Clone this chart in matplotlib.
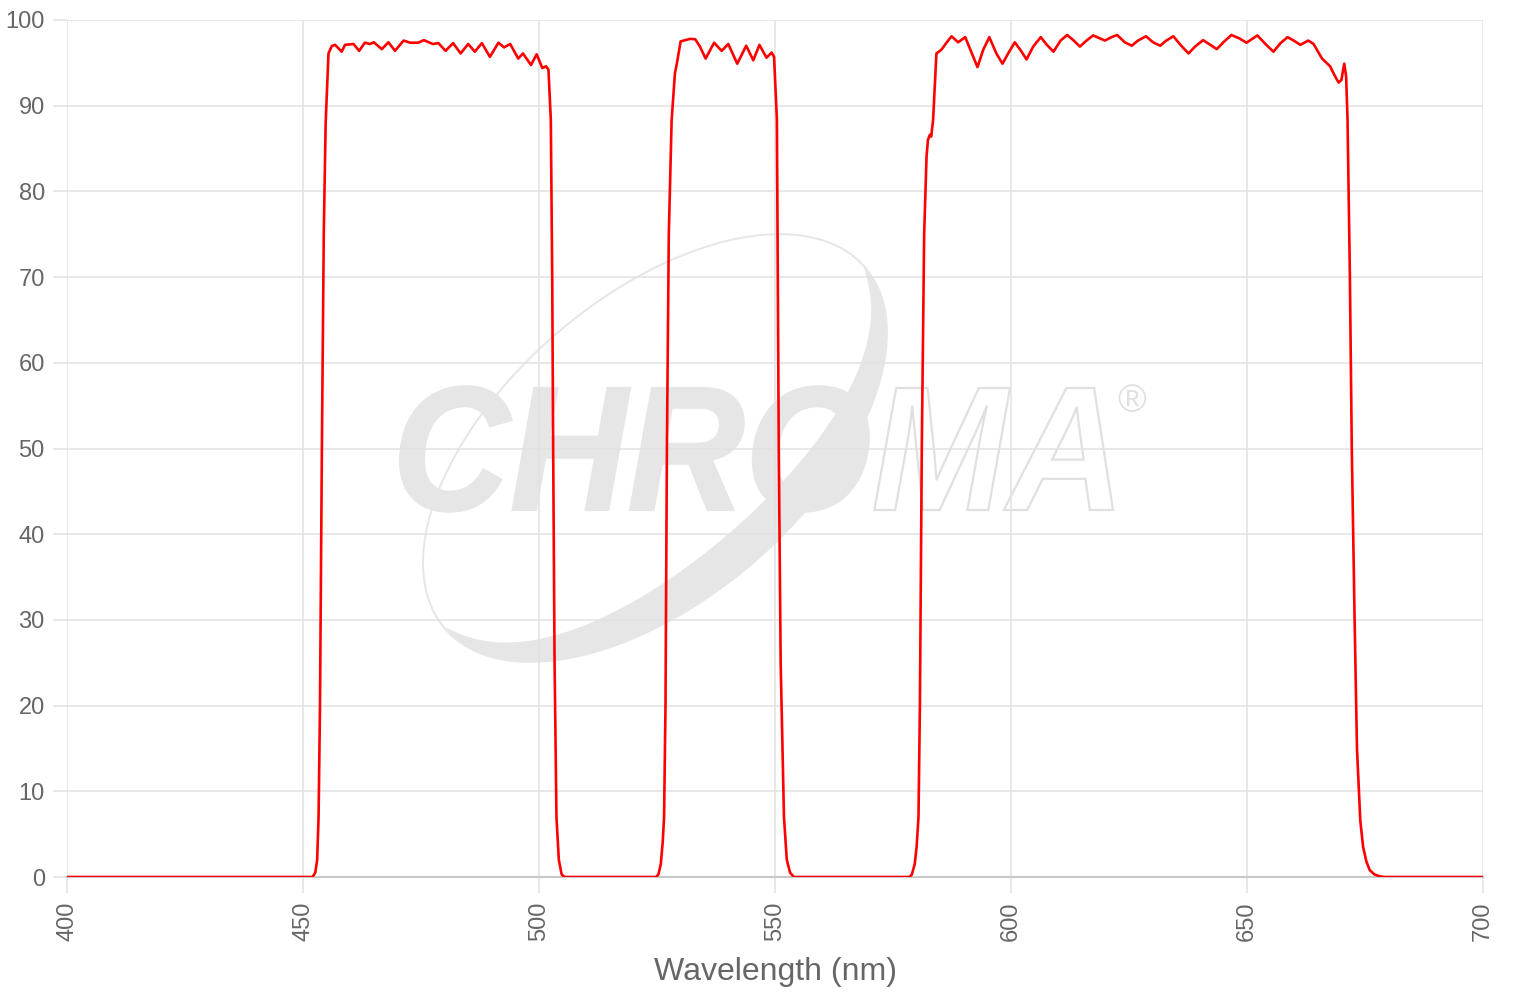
import numpy as np
import matplotlib
matplotlib.use("Agg")
import matplotlib.pyplot as plt
import matplotlib.transforms as mtransforms
from matplotlib.patches import PathPatch, Polygon
from matplotlib.textpath import TextPath, TextToPath
from matplotlib.font_manager import FontProperties

# ---------------- data ----------------
wavelength = [
    400.0, 452.0, 452.6, 453.0, 453.3, 453.6, 454.0, 454.4, 454.8, 455.4,
    456.1, 456.8, 458.2, 458.9, 460.7, 461.9, 463.1, 464.2, 465.0, 466.7,
    468.1, 469.5, 471.3, 472.7, 474.4, 475.6, 477.5, 478.7, 480.2, 481.8,
    483.4, 485.0, 486.4, 487.9, 489.6, 491.4, 492.6, 493.9, 495.6, 496.6,
    498.3, 499.5, 500.7, 501.5, 502.0, 502.5, 502.8, 503.0, 503.3, 503.7,
    504.2, 504.8, 505.4,
    524.8, 525.3, 525.8, 526.2, 526.5, 526.8, 527.1, 527.5, 528.1, 528.8,
    529.2, 530.0, 532.0, 533.1, 534.1, 535.3, 537.1, 538.7, 540.1, 542.0,
    543.9, 545.4, 546.7, 548.2, 549.3, 549.8, 550.4, 550.8, 551.2, 551.9,
    552.5, 553.2, 554.0,
    578.5, 579.0, 579.6, 580.0, 580.4, 580.7, 581.1, 581.6, 582.1, 582.4,
    582.8, 583.1, 583.5, 584.2, 585.2, 586.4, 587.4, 588.8, 590.3, 591.7,
    592.9, 594.1, 595.4, 596.9, 598.2, 599.4, 600.8, 602.0, 603.3, 604.7,
    606.3, 607.6, 609.0, 610.5, 611.9, 613.2, 614.6, 616.0, 617.4, 619.9,
    621.3, 622.5, 624.1, 625.6, 626.9, 628.6, 630.1, 631.6, 632.9, 634.4,
    635.9, 637.6, 639.0, 640.7, 642.2, 643.6, 645.0, 646.7, 648.4, 649.9,
    652.2, 653.9, 655.6, 657.1, 658.6, 659.9, 661.3, 663.0, 664.1, 665.9,
    667.6, 668.5, 669.4, 670.0, 670.6, 671.0, 671.3, 671.8, 672.2, 672.8,
    673.3, 674.0, 674.6, 675.3, 676.0, 677.0, 678.0, 679.0, 700.0,
]
transmission = [
    0.0, 0.0, 0.5, 2.0, 7.0, 20.0, 50.0, 75.0, 88.0, 96.1,
    96.96, 97.1, 96.3, 97.1, 97.2, 96.4, 97.35, 97.2, 97.4, 96.6,
    97.4, 96.4, 97.6, 97.35, 97.35, 97.65, 97.2, 97.3, 96.4, 97.3,
    96.1, 97.2, 96.3, 97.3, 95.7, 97.35, 96.8, 97.2, 95.5, 96.1,
    94.75, 96.0, 94.4, 94.6, 94.2, 88.4, 70.0, 50.0, 25.0, 7.0,
    2.0, 0.3, 0.0,
    0.0, 0.3, 1.5, 4.0, 7.0, 20.0, 50.0, 75.0, 88.3, 93.8,
    94.9, 97.5, 97.8, 97.75, 96.9, 95.5, 97.35, 96.4, 97.2, 94.9,
    97.0, 95.3, 97.1, 95.6, 96.2, 95.7, 88.4, 50.0, 25.0, 7.0,
    2.0, 0.5, 0.0,
    0.0, 0.3, 1.5, 3.5, 7.0, 20.0, 50.0, 75.0, 84.0, 86.0,
    86.6, 86.4, 88.4, 96.1, 96.5, 97.4, 98.1, 97.4, 98.0, 96.1,
    94.5, 96.5, 98.0, 96.1, 94.9, 96.1, 97.4, 96.5, 95.4, 96.9,
    98.0, 97.1, 96.3, 97.6, 98.25, 97.65, 96.9, 97.6, 98.2, 97.6,
    98.0, 98.25, 97.4, 97.0, 97.6, 98.1, 97.4, 97.0, 97.6, 98.1,
    97.1, 96.1, 96.9, 97.65, 97.1, 96.6, 97.4, 98.25, 97.85, 97.35,
    98.2, 97.2, 96.3, 97.3, 98.0, 97.6, 97.1, 97.6, 97.2, 95.5,
    94.6, 93.6, 92.7, 93.0, 94.9, 93.4, 88.4, 70.0, 50.0, 30.0,
    15.0, 6.6, 3.5, 1.8, 0.8, 0.3, 0.1, 0.0, 0.0,
]
x_ticks = [400, 450, 500, 550, 600, 650, 700]
y_ticks = [0, 10, 20, 30, 40, 50, 60, 70, 80, 90, 100]
x_label = "Wavelength (nm)"

# ---------------- figure ----------------
W, H = 1520, 1000
plt.rcParams['font.family'] = ['Liberation Sans', 'DejaVu Sans']
fig = plt.figure(figsize=(W / 100, H / 100), dpi=100)
ax = fig.add_axes([67 / W, 1 - 877 / H, (1483 - 67) / W, (877 - 20) / H])

GRID = '#e2e2e2'
TXT = '#666666'

# watermark logo (screen-pixel coordinates, y downward)
pix = mtransforms.Affine2D().scale(1, -1).translate(0, H)
WM = '#e6e6e6'
c = np.array([655.0, 448.0])
a_ax, b_ax = 278.0, 152.0
phi = np.deg2rad(40.7)
u = np.array([np.cos(phi), -np.sin(phi)])
v = np.array([np.sin(phi), np.cos(phi)])
t = np.linspace(0, 2 * np.pi, 721)
w = 2.0 + 37.0 * np.clip(np.sin(t), 0, None) ** 0.8
outer = c + np.outer(a_ax * np.cos(t), u) + np.outer(b_ax * np.sin(t), v)
inner = c + np.outer((a_ax - w) * np.cos(t), u) + np.outer((b_ax - w) * np.sin(t), v)
ring = np.vstack([outer, inner[::-1]])
ax.add_patch(Polygon(ring, closed=True, facecolor=WM, edgecolor='none',
                     transform=pix, zorder=0.2))

fp = FontProperties(family='Liberation Sans', weight='bold', style='italic', size=100)
full = TextPath((0, 0), "CHROMA", size=100, prop=fp)
ext = full.get_extents()
capH = TextPath((0, 0), "H", size=100, prop=fp).get_extents().ymax
w_chro = TextToPath().get_text_width_height_descent("CHRO", fp, ismath=False)[0]
sx = (1113 - 400) / (ext.xmax - ext.xmin)
sy = 122 / capH
ttr = mtransforms.Affine2D().translate(-ext.xmin, 0).scale(sx, -sy).translate(400, 510) + pix
chro = TextPath((0, 0), "CHRO", size=100, prop=fp)
ma = TextPath((w_chro, 0), "MA", size=100, prop=fp)
ax.add_patch(PathPatch(chro, facecolor=WM, edgecolor=WM, lw=1.5,
                       transform=ttr, zorder=0.25))
ax.add_patch(PathPatch(ma, facecolor='none', edgecolor='#e0e0e0', lw=1.6,
                       transform=ttr, zorder=0.25))
ax.text(1132, 402, "®", transform=pix, fontsize=28, color='#e0e0e0',
        ha='center', va='center', zorder=0.25)

# data line
ax.plot(wavelength, transmission, color='#ff0000', lw=1.9, zorder=3,
        solid_joinstyle='round')

ax.set_xlim(400, 700)
ax.set_ylim(0, 100)
ax.set_xticks(x_ticks)
ax.set_yticks(y_ticks)
ax.set_xticklabels([str(v_) for v_ in x_ticks], rotation=90)
ax.grid(True, color=GRID, lw=1.1, zorder=0.5)
ax.set_axisbelow(True)
for s in ['top', 'right', 'left']:
    ax.spines[s].set_visible(False)
ax.spines['bottom'].set_color('#c8c8c8')
ax.spines['bottom'].set_linewidth(1.5)
ax.spines['bottom'].set_zorder(0.6)
ax.tick_params(axis='x', length=11.5, width=1.1, color=GRID, pad=6,
               labelsize=17, labelcolor=TXT)
ax.tick_params(axis='y', length=10, width=1.1, color=GRID, pad=6,
               labelsize=17, labelcolor=TXT)
ax.set_xlabel(x_label, fontsize=23, color=TXT, labelpad=12)

fig.savefig("out.png", dpi=100)
